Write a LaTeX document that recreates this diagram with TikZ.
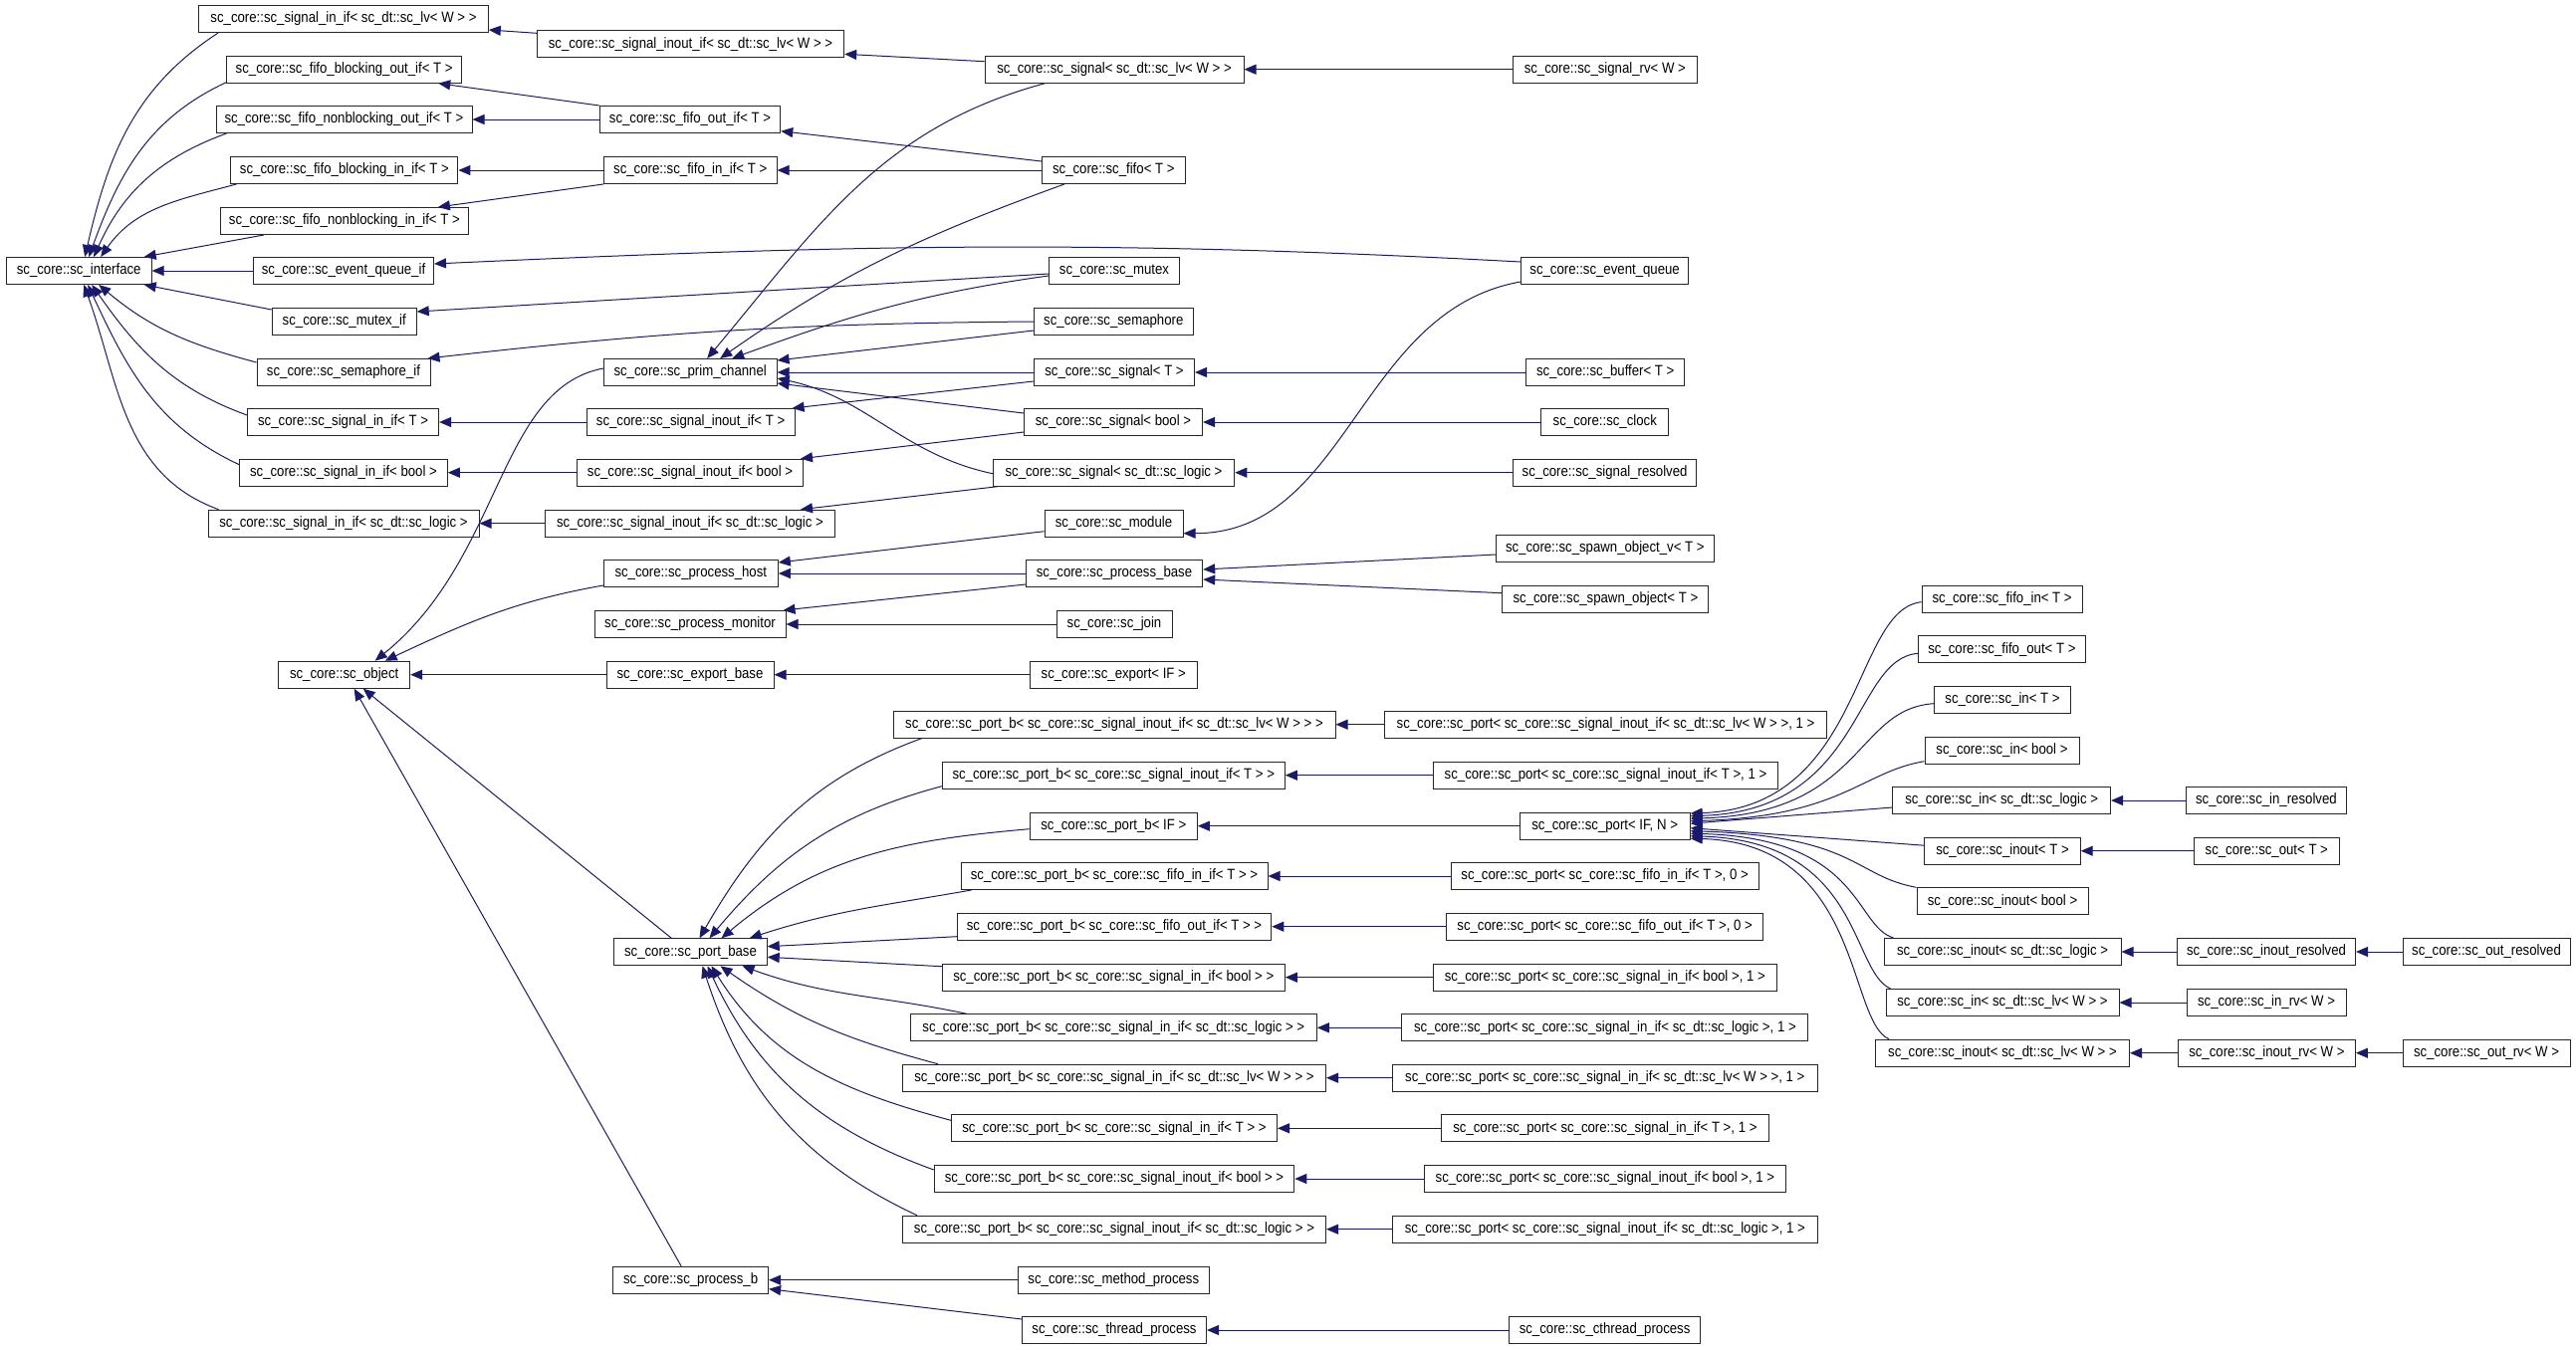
\documentclass[tikz,border=0pt]{standalone}
\usepackage{fontspec}
\setmainfont{Liberation Sans}[FakeStretch=0.88]
\usetikzlibrary{arrows.meta}
\definecolor{edgeblue}{RGB}{25,25,112}

\begin{document}
\begin{tikzpicture}[x=1pt,y=1pt,
    cls/.style={draw=black!85, line width=1pt, fill=white, minimum height=27pt,
      inner xsep=2pt, inner ysep=0pt, font=\fontsize{15}{18}\selectfont},
    inh/.style={draw=edgeblue, line width=1pt, -{Triangle[length=12pt,width=10pt]}}]
  \useasboundingbox (0,0) rectangle (2587,-1355);

  \node[cls, minimum width=146pt] (iface) at (79.2,-272) {sc\_core::sc\_interface};

  \node[cls, minimum width=290.6pt] (sigInLv) at (345,-19) {sc\_core::sc\_signal\_in\_if< sc\_dt::sc\_lv< W > >};
  \node[cls, minimum width=236pt] (fifoBOut) at (345.7,-69.7) {sc\_core::sc\_fifo\_blocking\_out\_if< T >};
  \node[cls, minimum width=257pt] (fifoNbOut) at (345.5,-120) {sc\_core::sc\_fifo\_nonblocking\_out\_if< T >};
  \node[cls, minimum width=228pt] (fifoBIn) at (345.9,-171) {sc\_core::sc\_fifo\_blocking\_in\_if< T >};
  \node[cls, minimum width=249pt] (fifoNbIn) at (345.9,-222) {sc\_core::sc\_fifo\_nonblocking\_in\_if< T >};
  \node[cls, minimum width=181pt] (eqIf) at (345,-272) {sc\_core::sc\_event\_queue\_if};
  \node[cls, minimum width=145pt] (mutexIf) at (345.7,-323) {sc\_core::sc\_mutex\_if};
  \node[cls, minimum width=174pt] (semIf) at (345,-374) {sc\_core::sc\_semaphore\_if};
  \node[cls, minimum width=192pt] (sigInT) at (344.6,-424) {sc\_core::sc\_signal\_in\_if< T >};
  \node[cls, minimum width=208.5pt] (sigInBool) at (345,-474.7) {sc\_core::sc\_signal\_in\_if< bool >};
  \node[cls, minimum width=272pt] (sigInLogic) at (345,-525.7) {sc\_core::sc\_signal\_in\_if< sc\_dt::sc\_logic >};
  \node[cls, minimum width=132pt] (object) at (345.7,-677.7) {sc\_core::sc\_object};

  \node[cls, minimum width=308.4pt] (sigInoutLv) at (693.5,-44.3) {sc\_core::sc\_signal\_inout\_if< sc\_dt::sc\_lv< W > >};
  \node[cls, minimum width=181.5pt] (fifoOutIf) at (693,-120) {sc\_core::sc\_fifo\_out\_if< T >};
  \node[cls, minimum width=173.7pt] (fifoInIf) at (693.2,-171) {sc\_core::sc\_fifo\_in\_if< T >};
  \node[cls, minimum width=173.7pt] (prim) at (693.2,-374) {sc\_core::sc\_prim\_channel};
  \node[cls, minimum width=209pt] (sigInoutT) at (693.6,-424) {sc\_core::sc\_signal\_inout\_if< T >};
  \node[cls, minimum width=227pt] (sigInoutBool) at (693,-474.7) {sc\_core::sc\_signal\_inout\_if< bool >};
  \node[cls, minimum width=291pt] (sigInoutLogic) at (693,-525.7) {sc\_core::sc\_signal\_inout\_if< sc\_dt::sc\_logic >};
  \node[cls, minimum width=175pt] (procHost) at (693.8,-576) {sc\_core::sc\_process\_host};
  \node[cls, minimum width=192pt] (procMon) at (693,-627) {sc\_core::sc\_process\_monitor};
  \node[cls, minimum width=168pt] (exportBase) at (693,-677.7) {sc\_core::sc\_export\_base};
  \node[cls, minimum width=153.4pt] (portBase) at (693.5,-956.3) {sc\_core::sc\_port\_base};
  \node[cls, minimum width=156pt] (procB) at (693.6,-1285.7) {sc\_core::sc\_process\_b};

  \node[cls, minimum width=260pt] (sigLv) at (1119,-69.7) {sc\_core::sc\_signal< sc\_dt::sc\_lv< W > >};
  \node[cls, minimum width=144pt] (fifo) at (1118.3,-171) {sc\_core::sc\_fifo< T >};
  \node[cls, minimum width=131.4pt] (mutex) at (1119,-272) {sc\_core::sc\_mutex};
  \node[cls, minimum width=160pt] (sema) at (1118.3,-323) {sc\_core::sc\_semaphore};
  \node[cls, minimum width=161pt] (sigT) at (1119,-374) {sc\_core::sc\_signal< T >};
  \node[cls, minimum width=179pt] (sigBool) at (1118,-424) {sc\_core::sc\_signal< bool >};
  \node[cls, minimum width=242.5pt] (sigLogic) at (1118.5,-474.7) {sc\_core::sc\_signal< sc\_dt::sc\_logic >};
  \node[cls, minimum width=139pt] (module) at (1118.5,-525.7) {sc\_core::sc\_module};
  \node[cls, minimum width=177.4pt] (procBase) at (1119,-576) {sc\_core::sc\_process\_base};
  \node[cls, minimum width=116pt] (join) at (1119,-627) {sc\_core::sc\_join};
  \node[cls, minimum width=168.3pt] (exportIF) at (1118.3,-677.7) {sc\_core::sc\_export< IF >};
  \node[cls, minimum width=444pt] (pbInoutLv) at (1119,-727.7) {sc\_core::sc\_port\_b< sc\_core::sc\_signal\_inout\_if< sc\_dt::sc\_lv< W > > >};
  \node[cls, minimum width=344pt] (pbInoutT) at (1118.3,-778.7) {sc\_core::sc\_port\_b< sc\_core::sc\_signal\_inout\_if< T > >};
  \node[cls, minimum width=168.3pt] (pbIF) at (1118.3,-829.7) {sc\_core::sc\_port\_b< IF >};
  \node[cls, minimum width=308pt] (pbFifoIn) at (1119,-880) {sc\_core::sc\_port\_b< sc\_core::sc\_fifo\_in\_if< T > >};
  \node[cls, minimum width=315.5pt] (pbFifoOut) at (1119,-930.7) {sc\_core::sc\_port\_b< sc\_core::sc\_fifo\_out\_if< T > >};
  \node[cls, minimum width=344pt] (pbInBool) at (1118.3,-981.7) {sc\_core::sc\_port\_b< sc\_core::sc\_signal\_in\_if< bool > >};
  \node[cls, minimum width=408pt] (pbInLogic) at (1118.3,-1032.3) {sc\_core::sc\_port\_b< sc\_core::sc\_signal\_in\_if< sc\_dt::sc\_logic > >};
  \node[cls, minimum width=425pt] (pbInLv) at (1119,-1082.7) {sc\_core::sc\_port\_b< sc\_core::sc\_signal\_in\_if< sc\_dt::sc\_lv< W > > >};
  \node[cls, minimum width=327pt] (pbInT) at (1119,-1133.3) {sc\_core::sc\_port\_b< sc\_core::sc\_signal\_in\_if< T > >};
  \node[cls, minimum width=361.6pt] (pbInoutBool) at (1119,-1184) {sc\_core::sc\_port\_b< sc\_core::sc\_signal\_inout\_if< bool > >};
  \node[cls, minimum width=425pt] (pbInoutLogic) at (1119,-1234.7) {sc\_core::sc\_port\_b< sc\_core::sc\_signal\_inout\_if< sc\_dt::sc\_logic > >};
  \node[cls, minimum width=192pt] (method) at (1118.3,-1285.7) {sc\_core::sc\_method\_process};
  \node[cls, minimum width=185pt] (thread) at (1119,-1336) {sc\_core::sc\_thread\_process};

  \node[cls, minimum width=184.4pt] (sigRv) at (1611.8,-69.7) {sc\_core::sc\_signal\_rv< W >};
  \node[cls, minimum width=168pt] (evq) at (1611.6,-272) {sc\_core::sc\_event\_queue};
  \node[cls, minimum width=159pt] (buffer) at (1612.2,-374) {sc\_core::sc\_buffer< T >};
  \node[cls, minimum width=128pt] (clock) at (1611.8,-424) {sc\_core::sc\_clock};
  \node[cls, minimum width=184pt] (sigResolved) at (1611.6,-474.7) {sc\_core::sc\_signal\_resolved};
  \node[cls, minimum width=218.4pt] (spawnV) at (1611.8,-551) {sc\_core::sc\_spawn\_object\_v< T >};
  \node[cls, minimum width=207pt] (spawn) at (1612.4,-601.7) {sc\_core::sc\_spawn\_object< T >};
  \node[cls, minimum width=444pt] (pInoutLv) at (1612.5,-727.7) {sc\_core::sc\_port< sc\_core::sc\_signal\_inout\_if< sc\_dt::sc\_lv< W > >, 1 >};
  \node[cls, minimum width=345.7pt] (pInoutT) at (1612.5,-778.7) {sc\_core::sc\_port< sc\_core::sc\_signal\_inout\_if< T >, 1 >};
  \node[cls, minimum width=171pt] (portIFN) at (1611.6,-829.7) {sc\_core::sc\_port< IF, N >};
  \node[cls, minimum width=309pt] (pFifoIn) at (1611.6,-880) {sc\_core::sc\_port< sc\_core::sc\_fifo\_in\_if< T >, 0 >};
  \node[cls, minimum width=317.6pt] (pFifoOut) at (1611.6,-930.7) {sc\_core::sc\_port< sc\_core::sc\_fifo\_out\_if< T >, 0 >};
  \node[cls, minimum width=344.4pt] (pInBool) at (1611.8,-981.7) {sc\_core::sc\_port< sc\_core::sc\_signal\_in\_if< bool >, 1 >};
  \node[cls, minimum width=408pt] (pInLogic) at (1611.9,-1032.3) {sc\_core::sc\_port< sc\_core::sc\_signal\_in\_if< sc\_dt::sc\_logic >, 1 >};
  \node[cls, minimum width=426.5pt] (pInLv) at (1611.8,-1082.7) {sc\_core::sc\_port< sc\_core::sc\_signal\_in\_if< sc\_dt::sc\_lv< W > >, 1 >};
  \node[cls, minimum width=329pt] (pInT) at (1611.9,-1133.3) {sc\_core::sc\_port< sc\_core::sc\_signal\_in\_if< T >, 1 >};
  \node[cls, minimum width=363pt] (pInoutBool) at (1611.9,-1184) {sc\_core::sc\_port< sc\_core::sc\_signal\_inout\_if< bool >, 1 >};
  \node[cls, minimum width=426.5pt] (pInoutLogic) at (1611.8,-1234.7) {sc\_core::sc\_port< sc\_core::sc\_signal\_inout\_if< sc\_dt::sc\_logic >, 1 >};
  \node[cls, minimum width=192.4pt] (cthread) at (1611.6,-1336) {sc\_core::sc\_cthread\_process};

  \node[cls, minimum width=161pt] (fifoIn) at (2010.6,-601.7) {sc\_core::sc\_fifo\_in< T >};
  \node[cls, minimum width=168pt] (fifoOut) at (2010.4,-652.3) {sc\_core::sc\_fifo\_out< T >};
  \node[cls, minimum width=137pt] (inT) at (2011,-702.7) {sc\_core::sc\_in< T >};
  \node[cls, minimum width=155pt] (inBool) at (2010.5,-753.7) {sc\_core::sc\_in< bool >};
  \node[cls, minimum width=218.6pt] (inLogic) at (2010.2,-804) {sc\_core::sc\_in< sc\_dt::sc\_logic >};
  \node[cls, minimum width=156.4pt] (inoutT) at (2011,-854.7) {sc\_core::sc\_inout< T >};
  \node[cls, minimum width=172pt] (inoutBool) at (2011,-905.3) {sc\_core::sc\_inout< bool >};
  \node[cls, minimum width=238pt] (inoutLogic) at (2011,-956) {sc\_core::sc\_inout< sc\_dt::sc\_logic >};
  \node[cls, minimum width=234pt] (inLv) at (2011,-1007) {sc\_core::sc\_in< sc\_dt::sc\_lv< W > >};
  \node[cls, minimum width=255pt] (inoutLv) at (2011,-1057.7) {sc\_core::sc\_inout< sc\_dt::sc\_lv< W > >};

  \node[cls, minimum width=160.3pt] (inResolved) at (2275.9,-804) {sc\_core::sc\_in\_resolved};
  \node[cls, minimum width=145.4pt] (outT) at (2276.3,-854.7) {sc\_core::sc\_out< T >};
  \node[cls, minimum width=179pt] (inoutResolved) at (2276,-956) {sc\_core::sc\_inout\_resolved};
  \node[cls, minimum width=160pt] (inRv) at (2276,-1007) {sc\_core::sc\_in\_rv< W >};
  \node[cls, minimum width=178pt] (inoutRv) at (2276.4,-1057.7) {sc\_core::sc\_inout\_rv< W >};

  \node[cls, minimum width=168pt] (outResolved) at (2497,-956) {sc\_core::sc\_out\_resolved};
  \node[cls, minimum width=168pt] (outRv) at (2497,-1057.7) {sc\_core::sc\_out\_rv< W >};

  \draw[inh] ([xshift=20]sigInLv.south west) to[out=213,in=77] ([xshift=6]iface.north);
  \draw[inh] ([yshift=1]fifoBOut.south west) to[out=205,in=70] ([xshift=10]iface.north);
  \draw[inh] ([xshift=11]fifoNbOut.south west) to[out=200,in=66] ([xshift=15]iface.north);
  \draw[inh] ([xshift=6]fifoBIn.south west) to[out=195,in=55] ([xshift=22]iface.north);
  \draw[inh] ([xshift=44]fifoNbIn.south west) -- ([xshift=-8]iface.north east);
  \draw[inh] (eqIf.west) -- (iface.east);
  \draw[inh] ([yshift=-2]mutexIf.north west) -- ([xshift=-8]iface.south east);
  \draw[inh] ([yshift=10]semIf.west) to[out=165,in=-40] ([xshift=20]iface.south);
  \draw[inh] ([yshift=7]sigInT.west) to[out=160,in=-55] ([xshift=13]iface.south);
  \draw[inh] ([yshift=8]sigInBool.west) to[out=155,in=-65] ([xshift=9]iface.south);
  \draw[inh] ([xshift=11]sigInLogic.north west) to[out=160,in=-70] ([xshift=5]iface.south);

  \draw[inh] ([yshift=11]sigInoutLv.west) -- ([yshift=-11]sigInLv.east);
  \draw[inh] (fifoOutIf.north west) -- ([xshift=-24]fifoBOut.south east);
  \draw[inh] (fifoOutIf.west) -- (fifoNbOut.east);
  \draw[inh] (fifoInIf.west) -- (fifoBIn.east);
  \draw[inh] (fifoInIf.south west) -- ([xshift=-31]fifoNbIn.north east);
  \draw[inh] ([yshift=9]evq.west) .. controls (1100,-240) and (850,-246) .. ([yshift=7]eqIf.east);
  \draw[inh] ([yshift=-3]mutex.west) -- ([yshift=10]mutexIf.east);
  \draw[inh] (sema.west) to[bend right=3] ([xshift=-3]semIf.north east);
  \draw[inh] (sigInoutT.west) -- (sigInT.east);
  \draw[inh] (sigInoutBool.west) -- (sigInBool.east);
  \draw[inh] (sigInoutLogic.west) -- (sigInLogic.east);

  \draw[inh] ([yshift=8]sigLv.west) -- ([yshift=-10]sigInoutLv.east);
  \draw[inh] ([yshift=9]fifo.west) -- ([yshift=-11.7]fifoOutIf.east);
  \draw[inh] (fifo.west) -- (fifoInIf.east);

  \draw[inh] ([xshift=61]sigLv.south west) to[out=195,in=50] ([xshift=17]prim.north);
  \draw[inh] ([xshift=23]fifo.south west) to[out=200,in=35] ([xshift=30]prim.north);
  \draw[inh] ([yshift=-5]mutex.west) to[out=188,in=20] ([xshift=42]prim.north);
  \draw[inh] ([yshift=-9]sema.west) -- ([yshift=12]prim.east);
  \draw[inh] (sigT.west) -- (prim.east);
  \draw[inh] ([yshift=-9]sigT.west) -- ([xshift=-3]sigInoutT.north east);
  \draw[inh] ([yshift=9]sigBool.west) -- ([yshift=-11]prim.east);
  \draw[inh] ([yshift=-10]sigBool.west) -- ([xshift=-3]sigInoutBool.north east);
  \draw[inh] ([yshift=-1]sigLogic.west) to[out=168,in=-12] ([yshift=-6]prim.east);
  \draw[inh] ([xshift=5]sigLogic.south west) -- ([xshift=-35]sigInoutLogic.north east);
  \draw[inh] ([yshift=4]prim.west) .. controls (500,-390) and (505,-560) .. ([xshift=31]object.north);

  \draw[inh] (sigRv.west) -- (sigLv.east);
  \draw[inh] (buffer.west) -- (sigT.east);
  \draw[inh] (clock.west) -- (sigBool.east);
  \draw[inh] (sigResolved.west) -- (sigLogic.east);
  \draw[inh] ([yshift=-11]evq.west) to[out=190,in=0] ([yshift=-10]module.east);
  \draw[inh] ([yshift=-8]module.west) -- ([yshift=11]procHost.east);
  \draw[inh] (procBase.west) -- (procHost.east);
  \draw[inh] ([yshift=-11]procBase.west) -- ([xshift=-3]procMon.north east);
  \draw[inh] (join.west) -- (procMon.east);
  \draw[inh] (exportIF.west) -- (exportBase.east);
  \draw[inh] (exportBase.west) -- (object.east);
  \draw[inh] ([yshift=-12]procHost.west) to[out=190,in=25] ([xshift=41]object.north);
  \draw[inh] ([yshift=-6]spawnV.west) -- ([yshift=4]procBase.east);
  \draw[inh] ([yshift=6]spawn.west) -- ([yshift=-6]procBase.east);

  \draw[inh] ([xshift=29]pbInoutLv.south west) to[out=200,in=60] ([xshift=9]portBase.north);
  \draw[inh] ([yshift=-11]pbInoutT.west) to[out=195,in=50] ([xshift=19]portBase.north);
  \draw[inh] ([yshift=-3]pbIF.west) to[out=185,in=40] ([xshift=31]portBase.north);
  \draw[inh] ([xshift=11]pbFifoIn.south west) to[out=190,in=18] ([xshift=-18]portBase.north east);
  \draw[inh] ([yshift=-10]pbFifoOut.west) -- ([yshift=5.6]portBase.east);
  \draw[inh] ([yshift=11]pbInBool.west) -- ([yshift=-5]portBase.east);
  \draw[inh] ([xshift=57]pbInLogic.north west) to[out=168,in=-20] ([xshift=52]portBase.south);
  \draw[inh] ([xshift=36]pbInLv.north west) to[out=165,in=-35] ([xshift=30]portBase.south);
  \draw[inh] ([yshift=8]pbInT.west) to[out=165,in=-58] ([xshift=21]portBase.south);
  \draw[inh] ([yshift=9]pbInoutBool.west) to[out=160,in=-65] ([xshift=17]portBase.south);
  \draw[inh] ([xshift=15]pbInoutLogic.north west) to[out=155,in=-72] ([xshift=12]portBase.south);
  \draw[inh] ([xshift=58]portBase.north west) -- ([xshift=19]object.south);
  \draw[inh] ([xshift=69]procB.north west) -- ([xshift=10]object.south);

  \draw[inh] (pInoutLv.west) -- (pbInoutLv.east);
  \draw[inh] (pInoutT.west) -- (pbInoutT.east);
  \draw[inh] (portIFN.west) -- (pbIF.east);
  \draw[inh] (pFifoIn.west) -- (pbFifoIn.east);
  \draw[inh] (pFifoOut.west) -- (pbFifoOut.east);
  \draw[inh] (pInBool.west) -- (pbInBool.east);
  \draw[inh] (pInLogic.west) -- (pbInLogic.east);
  \draw[inh] (pInLv.west) -- (pbInLv.east);
  \draw[inh] (pInT.west) -- (pbInT.east);
  \draw[inh] (pInoutBool.west) -- (pbInoutBool.east);
  \draw[inh] (pInoutLogic.west) -- (pbInoutLogic.east);

  \draw[inh] ([yshift=-3]fifoIn.west) .. controls (1860,-612) and (1872,-811) .. ([yshift=12.7]portIFN.east);
  \draw[inh] ([yshift=-4]fifoOut.west) .. controls (1860,-662) and (1872,-814) .. ([yshift=10]portIFN.east);
  \draw[inh] ([yshift=-4]inT.west) .. controls (1862,-712) and (1872,-817) .. ([yshift=7.5]portIFN.east);
  \draw[inh] ([yshift=-11]inBool.west) .. controls (1870,-775) and (1850,-820) .. ([yshift=5]portIFN.east);
  \draw[inh] ([yshift=-7]inLogic.west) -- ([yshift=2.5]portIFN.east);
  \draw[inh] ([yshift=5.5]inoutT.west) -- ([yshift=-2]portIFN.east);
  \draw[inh] (inoutBool.north west) .. controls (1862,-880) and (1865,-840) .. ([yshift=-5]portIFN.east);
  \draw[inh] ([xshift=10]inoutLogic.north west) .. controls (1862,-930) and (1870,-842) .. ([yshift=-7.5]portIFN.east);
  \draw[inh] ([xshift=5]inLv.north west) .. controls (1858,-975) and (1870,-845) .. ([yshift=-10]portIFN.east);
  \draw[inh] ([xshift=14]inoutLv.north west) .. controls (1855,-1025) and (1870,-847) .. ([yshift=-12.5]portIFN.east);

  \draw[inh] (inResolved.west) -- (inLogic.east);
  \draw[inh] (outT.west) -- (inoutT.east);
  \draw[inh] (inoutResolved.west) -- (inoutLogic.east);
  \draw[inh] (inRv.west) -- (inLv.east);
  \draw[inh] (inoutRv.west) -- (inoutLv.east);
  \draw[inh] (outResolved.west) -- (inoutResolved.east);
  \draw[inh] (outRv.west) -- (inoutRv.east);

  \draw[inh] (method.west) -- (procB.east);
  \draw[inh] ([yshift=11]thread.west) -- ([yshift=-9]procB.east);
  \draw[inh] (cthread.west) -- (thread.east);
\end{tikzpicture}
\end{document}
